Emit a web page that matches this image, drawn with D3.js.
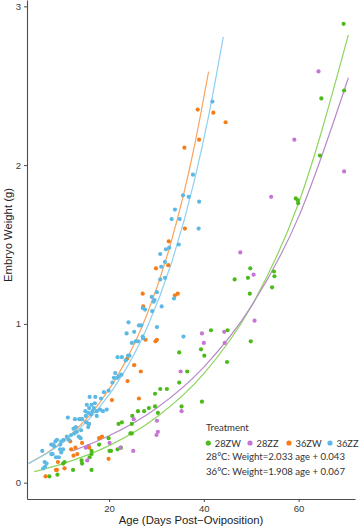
<!DOCTYPE html>
<html>
<head>
<meta charset="utf-8">
<script src="https://cdn.jsdelivr.net/npm/d3@7"></script>
<style>
  body { margin: 0; background: #fff; }
  #chart text { font-family: "Liberation Sans", Arial, sans-serif; }
  #chart .legend text { font-family: Lato, "Open Sans", sans-serif; }
</style>
</head>
<body>
<div id="chart"></div>
<script>
// Chart size
const width = 360;
const height = 529;

// Data: [age (days), weight (g)]
const pts28ZW = [
  [69.5,2.89],[64.8,2.42],[69.6,2.47],[64.5,2.06],[59.4,1.79],[59.8,1.78],[59.9,1.76],
  [54.8,1.33],[54.9,1.30],[54.4,1.23],[49.8,1.35],[49.3,1.29],[46.5,1.28],[49.7,1.19],
  [41.5,0.96],[45.0,0.96],[49.9,0.89],[39.4,0.84],[40.1,0.80],[44.9,0.76],[39.6,0.51],
  [34.8,0.82],[36.5,0.70],[34.8,0.63],[30.8,0.59],[32.2,0.59],[29.7,0.56],[29.7,0.48],
  [28.4,0.47],[27.4,0.45],[26.1,0.45],[24.9,0.42],[24.8,0.37],[22.7,0.38],[22.0,0.37],
  [30.3,0.44],[19.9,0.28],[24.8,0.31],[24.5,0.31],[35.3,0.48],[17.9,0.24],
  [20.1,0.20],[20.4,0.20],[21.8,0.21],[22.5,0.22],[15.9,0.16],[16.3,0.20],[16.3,0.18],
  [14.2,0.14],[14.3,0.12],[16.3,0.08],[12.4,0.08],[10.3,0.12],[10.6,0.13],[9.1,0.05],[7.4,0.04]
];
const pts28ZZ = [
  [64.2,2.59],[59.1,2.16],[69.6,1.96],[54.2,1.80],[50.7,1.02],[39.6,0.94],[44.3,0.95],
  [40.0,0.88],[44.4,0.88],[47.7,1.45],[50.5,1.31],[35.1,0.70],[25.2,0.40],[30.1,0.39],
  [30.3,0.32],[30.0,0.30],[35.3,0.45],[20.1,0.25],[25.1,0.20],[22.4,0.22],[15.1,0.22],
  [15.7,0.23],[15.4,0.14]
];
const pts36ZW = [
  [38.7,2.35],[42.0,2.33],[44.6,2.27],[39.0,2.16],[35.9,2.11],[36.0,1.60],[32.6,1.52],
  [32.5,1.37],[29.9,1.35],[27.1,1.19],[33.9,1.18],[34.5,1.19],[27.2,1.11],[27.7,0.90],
  [29.8,0.89],[30.1,0.90],[23.8,0.78],[25.3,0.74],[26.7,0.70],[23.9,0.64],[26.3,0.53],
  [20.6,0.52],[14.2,0.40],[15.7,0.37],[17.9,0.28],[18.5,0.29],[15.8,0.22],[12.9,0.22],
  [14.3,0.25],[13.3,0.18],[12.5,0.17],[19.9,0.15],[9.0,0.08],[8.8,0.08],[10.6,0.09],
  [6.6,0.04],[9.2,0.13],[11.8,0.26],[12.0,0.21]
];
const pts36ZZ = [
  [41.8,2.40],[37.7,1.94],[35.6,1.81],[36.8,1.80],[39.0,1.77],[33.9,1.72],[33.2,1.66],
  [34.9,1.66],[38.9,1.60],[34.7,1.50],[32.7,1.48],[32.0,1.47],[30.8,1.44],[31.8,1.39],
  [31.0,1.36],[31.8,1.29],[30.8,1.28],[30.1,1.20],[29.0,1.17],[29.6,1.15],[29.4,1.14],
  [33.7,1.16],[27.1,1.10],[27.6,1.09],[29.1,1.08],[31.1,1.11],[24.1,1.01],[26.3,0.99],
  [26.8,0.99],[30.1,0.98],[23.7,0.94],[25.3,0.95],[27.1,0.92],[27.2,0.91],[24.8,0.88],
  [25.6,0.89],[26.1,0.89],[35.7,0.92],[21.8,0.79],[22.7,0.79],[24.0,0.80],[24.3,0.80],
  [23.5,0.77],[21.3,0.69],[22.6,0.68],[21.0,0.66],[21.7,0.66],[22.0,0.67],[20.7,0.63],
  [18.9,0.57],[19.9,0.58],[18.3,0.53],[17.0,0.50],[17.1,0.54],[15.9,0.54],[15.3,0.49],
  [16.3,0.49],[15.8,0.47],[16.8,0.47],[18.1,0.46],[18.7,0.45],[19.5,0.46],[17.4,0.45],
  [16.5,0.45],[15.6,0.44],[16.2,0.43],[17.4,0.42],[15.0,0.45],[15.1,0.42],[11.3,0.41],
  [12.8,0.40],[13.7,0.40],[14.3,0.40],[15.2,0.38],[15.8,0.37],[15.6,0.35],[13.0,0.35],
  [12.5,0.34],[14.1,0.33],[12.7,0.31],[13.2,0.32],[12.0,0.30],[11.1,0.29],[11.5,0.27],
  [13.6,0.29],[14.0,0.28],[10.4,0.27],[9.9,0.26],[9.0,0.27],[8.7,0.26],[8.2,0.24],
  [10.3,0.21],[9.7,0.24],[7.8,0.24],[9.9,0.19],[8.1,0.18],[9.4,0.16],[8.8,0.16],
  [7.8,0.18],[6.8,0.12],[6.5,0.10],[6.1,0.09],[5.9,0.20],[6.4,0.13],[9.65,0.21],[8.4,0.23]
];

// Fitted curves
const fit28ZW = [[4.2,0.069],[10,0.117],[20,0.233],[30,0.412],[40,0.687],[50,1.110],[60,1.761],[70.5,2.82]];
const fit28ZZ = [[12.3,0.200],[20,0.295],[30,0.469],[40,0.728],[50,1.110],[60,1.674],[70.5,2.55]];
const fit36ZW = [[3,0.120],[8,0.210],[13,0.332],[18,0.502],[23,0.737],[28,1.059],[33,1.505],[38,2.118],[41,2.589]];
const fit36ZZ = [[3,0.120],[8,0.205],[13,0.319],[18,0.475],[23,0.688],[28,0.976],[33,1.369],[38,1.903],[41,2.309],[44.1,2.808]];

// Legend text and ticks
const groups = ["28ZW", "28ZZ", "36ZW", "36ZZ"];
const equations = ["28°C: Weight=2.033 age + 0.043", "36°C: Weight=1.908 age + 0.067"];
const xTicks = [20, 40, 60];
const yTicks = [0, 1, 2, 3];

const pointColor = { "28ZW": "#4dba1b", "28ZZ": "#c575d6", "36ZW": "#f57d17", "36ZZ": "#5cb9e4" };
const lineColor = { "28ZW": "#8ed65f", "28ZZ": "#b78ac8", "36ZW": "#f8a35e", "36ZZ": "#8fd0f0" };

const svg = d3.select("#chart")
    .append("svg")
    .attr("width", width)
    .attr("height", height);

// Scales
const xScale = d3.scaleLinear()
    .domain([2.68, 71.9])
    .range([27, 355]);

const yScale = d3.scaleLinear()
    .domain([-0.103, 3.04])
    .range([499, 0]);

// Axes
const xAxis = svg.append("g")
    .attr("transform", "translate(0, 499)")
    .call(d3.axisBottom(xScale).tickValues(xTicks).tickFormat(d3.format("d"))
        .tickSize(3).tickSizeOuter(0).tickPadding(3));

const yAxis = svg.append("g")
    .attr("transform", "translate(27, 0)")
    .call(d3.axisLeft(yScale).tickValues(yTicks).tickFormat(d3.format("d"))
        .tickSize(3).tickSizeOuter(0).tickPadding(3));

[xAxis, yAxis].forEach(function (g) {
    g.select(".domain").attr("stroke", "#4d4d4d").attr("stroke-width", 1.1);
    g.selectAll(".tick line").attr("stroke", "#4d4d4d");
    g.selectAll(".tick text")
        .attr("fill", "#3a3a3a")
        .style("font-size", "9.6px");
});

// Axis titles
svg.append("text")
    .attr("text-anchor", "middle")
    .attr("x", 191)
    .attr("y", 524)
    .style("font-size", "11.3px")
    .style("fill", "#222")
    .text("Age (Days Post\u2212Oviposition)");

svg.append("text")
    .attr("text-anchor", "middle")
    .attr("transform", "translate(12, 235) rotate(-90)")
    .style("font-size", "11.3px")
    .style("fill", "#222")
    .text("Embryo Weight (g)");

// Fitted curves
const curveLine = d3.line()
    .curve(d3.curveMonotoneX)
    .x(d => xScale(d[0]))
    .y(d => yScale(d[1]));

const fits = [["28ZW", fit28ZW], ["28ZZ", fit28ZZ], ["36ZW", fit36ZW], ["36ZZ", fit36ZZ]];
fits.forEach(function (f) {
    svg.append("path")
        .datum(f[1])
        .attr("d", curveLine)
        .attr("fill", "none")
        .attr("stroke", lineColor[f[0]])
        .attr("stroke-width", 1.2);
});

// Points
const sets = [["28ZW", pts28ZW], ["28ZZ", pts28ZZ], ["36ZW", pts36ZW], ["36ZZ", pts36ZZ]];
sets.forEach(function (s) {
    svg.append("g")
        .selectAll("circle")
        .data(s[1])
        .enter()
        .append("circle")
        .attr("cx", d => xScale(d[0]))
        .attr("cy", d => yScale(d[1]))
        .attr("r", 2.1)
        .attr("fill", pointColor[s[0]]);
});

// Legend
const legend = svg.append("g")
    .attr("class", "legend")
    .attr("transform", "translate(206, 0)");

legend.append("text")
    .attr("x", 0)
    .attr("y", 431)
    .style("font-size", "9.6px")
    .style("fill", "#333")
    .text("Treatment");

const itemX = [2.3, 44, 83, 124];
groups.forEach(function (g, i) {
    legend.append("circle")
        .attr("cx", itemX[i])
        .attr("cy", 443)
        .attr("r", 2.6)
        .attr("fill", pointColor[g]);
    legend.append("text")
        .attr("x", itemX[i] + 6.5)
        .attr("y", 446.5)
        .style("font-size", "9.3px")
        .style("fill", "#333")
        .text(g);
});

equations.forEach(function (e, i) {
    legend.append("text")
        .attr("x", 0)
        .attr("y", 460 + i * 14.5)
        .style("font-size", "9.6px")
        .style("fill", "#333")
        .text(e);
});
</script>
</body>
</html>
